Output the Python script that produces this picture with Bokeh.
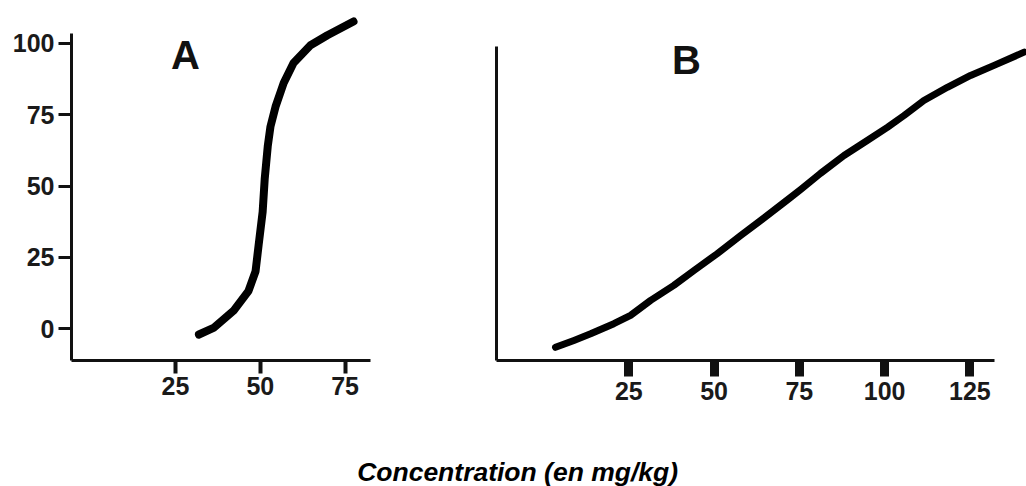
from bokeh.plotting import figure
from bokeh.layouts import column, row
from bokeh.models import Range1d, FixedTicker, Label
from bokeh.embed import file_html
from bokeh.resources import INLINE

# ---- data ----
a_conc = [31.9, 36.2, 42.1, 46.5, 48.6, 49.5, 50.7, 51.3, 52.2, 53.0, 54.5, 56.9, 59.8, 64.8, 69.8, 77.5]
a_resp = [-2.0, 0.3, 6.3, 13.2, 20.1, 29.2, 41.0, 52.4, 63.9, 70.8, 77.8, 86.1, 93.1, 99.3, 102.8, 107.6]
b_conc = [3.5, 8.9, 13.8, 20.6, 25.5, 31.4, 38.2, 44.1, 50.9, 57.8, 63.6, 71.5, 75.4, 81.2,
          88.1, 94.9, 100.8, 105.7, 111.5, 118.4, 125.2, 132.1, 140.9]
b_resp = [-5.5, -3.1, -0.8, 2.7, 5.6, 10.8, 16.0, 21.2, 27.0, 33.3, 38.5, 45.7, 49.3, 54.9,
          61.1, 66.3, 70.9, 75.0, 80.2, 84.8, 88.9, 92.4, 97.0]
a_xticks = [25, 50, 75]
a_yticks = [0, 25, 50, 75, 100]
b_xticks = [25, 50, 75, 100, 125]
panel_labels = ["A", "B"]
x_title = "Concentration (en mg/kg)"

FONT = "Liberation Sans"
INK = "#111111"
H = 420
TOP = 15


def style_axis(ax, tick_w, tick_out):
    ax.axis_line_width = 3
    ax.axis_line_color = INK
    ax.major_tick_line_width = tick_w
    ax.major_tick_line_color = INK
    ax.major_tick_out = tick_out
    ax.major_tick_in = 0
    ax.minor_tick_line_color = None
    ax.major_label_text_font = FONT
    ax.major_label_text_font_style = "bold"
    ax.major_label_text_font_size = "25px"
    ax.major_label_text_color = "#1a1a1a"


def base(p):
    p.outline_line_color = None
    p.xgrid.grid_line_color = None
    p.ygrid.grid_line_color = None
    p.background_fill_color = "white"
    p.border_fill_color = "white"


# ---- panel A ----
pA = figure(width=486, height=H, output_backend="svg", toolbar_location=None,
            x_range=Range1d(-5.68, 112.0), y_range=Range1d(-11.11, 109.72),
            min_border_left=71, min_border_right=16, min_border_top=TOP,
            min_border_bottom=H - 363)
base(pA)
pA.line(a_conc, a_resp, line_width=8, line_color="black", line_cap="round", line_join="round")
pA.xaxis.ticker = FixedTicker(ticks=a_xticks)
pA.yaxis.ticker = FixedTicker(ticks=a_yticks)
pA.xaxis.bounds = (-5.68, 82.6)
pA.yaxis.bounds = (-11.11, 103.5)
style_axis(pA.xaxis[0], 4, 13)
style_axis(pA.yaxis[0], 3, 13)
pA.xaxis.major_label_standoff = 3
pA.yaxis.major_label_standoff = 4
pA.add_layout(Label(x=27.9, y=95.8, text=panel_labels[0], text_font=FONT,
                    text_font_style="bold", text_font_size="40px", text_color=INK,
                    text_align="center", text_baseline="middle"))

# ---- panel B ----
pB = figure(width=540, height=H, output_backend="svg", toolbar_location=None,
            x_range=Range1d(-13.8, 141.6), y_range=Range1d(-10.07, 109.72),
            min_border_left=10, min_border_right=0, min_border_top=TOP,
            min_border_bottom=H - 360)
base(pB)
pB.line(b_conc, b_resp, line_width=7, line_color="black", line_cap="round", line_join="round")
pB.xaxis.ticker = FixedTicker(ticks=b_xticks)
pB.yaxis.ticker = FixedTicker(ticks=[])
pB.xaxis.bounds = (-13.8, 132.1)
pB.yaxis.bounds = (-10.07, 99.0)
style_axis(pB.xaxis[0], 9, 16)
style_axis(pB.yaxis[0], 3, 0)
pB.xaxis.major_label_standoff = 5
pB.yaxis.major_label_standoff = 0
pB.add_layout(Label(x=41.9, y=94.4, text=panel_labels[1], text_font=FONT,
                    text_font_style="bold", text_font_size="40px", text_color=INK,
                    text_align="center", text_baseline="middle"))

# ---- common x title ----
pT = figure(width=1026, height=486 - H, output_backend="svg", toolbar_location=None,
            x_range=Range1d(0, 1), y_range=Range1d(0, 1),
            x_axis_type=None, y_axis_type=None,
            min_border_left=0, min_border_right=0, min_border_top=0, min_border_bottom=0)
base(pT)
pT.add_layout(Label(x=0.504, y=0.22, text=x_title, text_font=FONT,
                    text_font_style="bold italic", text_font_size="26.5px", text_color="black",
                    text_align="center", text_baseline="middle"))

layout = column(row(pA, pB), pT)
open("out.html", "w").write(file_html(layout, INLINE))
